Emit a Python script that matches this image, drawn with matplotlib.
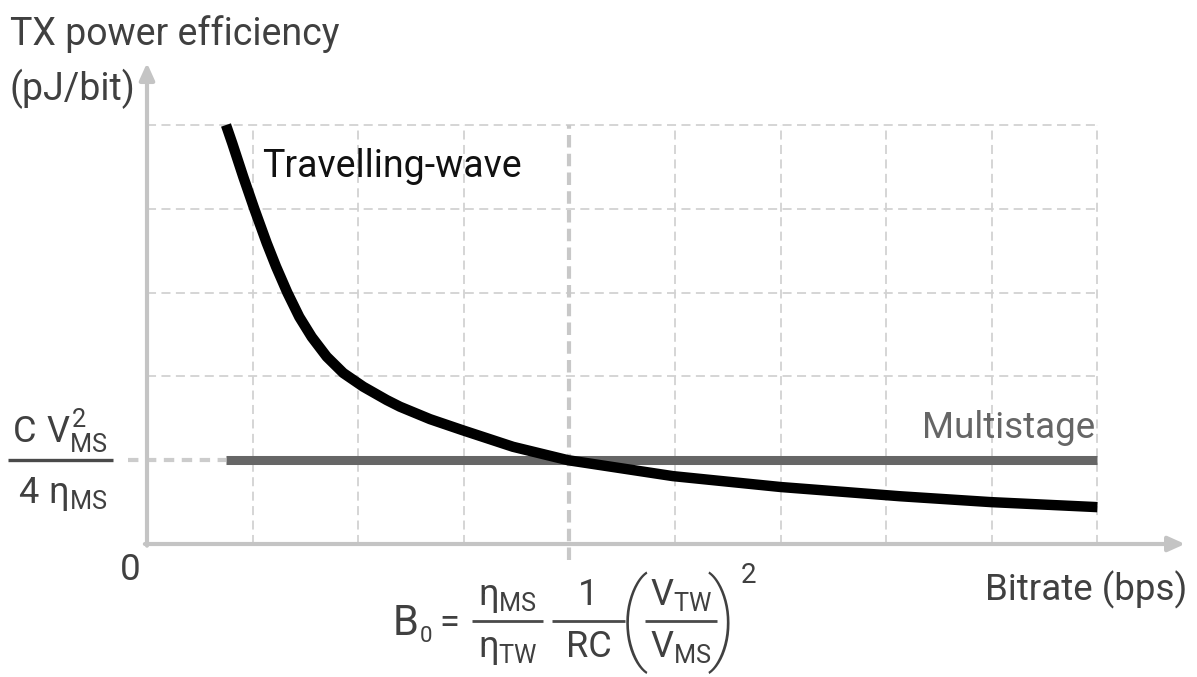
import matplotlib
matplotlib.use("Agg")
import matplotlib.pyplot as plt

plt.rcParams['font.family'] = ['Roboto', 'DejaVu Sans']
plt.rcParams['mathtext.fontset'] = 'custom'
plt.rcParams['mathtext.rm'] = 'Roboto'
plt.rcParams['mathtext.it'] = 'Roboto'
plt.rcParams['mathtext.bf'] = 'Roboto:bold'

# bitrate in grid cells (B0 sits at 4), efficiency in grid cells (multistage level at 1)
tw_bitrate = [0.748, 0.808, 0.912, 1.016, 1.134, 1.222, 1.329, 1.442, 1.560, 1.702,
              1.859, 2.048, 2.270, 2.396, 2.68, 2.983, 3.466, 3.987, 4.98, 6.0,
              7.13, 7.99, 9.0]
tw_energy = [5.0, 4.78, 4.38, 4.0, 3.59, 3.31, 3.0, 2.71, 2.47, 2.235,
             2.04, 1.877, 1.718, 1.638, 1.49, 1.36, 1.16, 1.0, 0.81, 0.68,
             0.57, 0.50, 0.44]
ms_bitrate = [0.75, 9.0]
ms_energy = [1.0, 1.0]
grid_x = [1, 2, 3, 5, 6, 7, 8, 9]
grid_y = [2, 3, 4, 5]
b0 = 4.0
level = 1.0

# pixel layout of the reference: origin at (147, 544), cells 105.6 x 83.8 px
X0, Y0, DX, DY = 147, 544, 105.6, 83.8


def px(x, y):
    return (x - X0) / DX, (Y0 - y) / DY


fig = plt.figure(figsize=(11.97, 6.77), dpi=100)
ax = fig.add_axes([0, 0, 1, 1])
ax.set_xlim(-X0 / DX, (1197 - X0) / DX)
ax.set_ylim(-(677 - Y0) / DY, Y0 / DY)
ax.axis('off')

grid_kw = dict(color='#d2d2d2', lw=1.3, ls=(0, (5, 3)), zorder=1)
for gx in grid_x:
    ax.plot([gx, gx], [0, 5], **grid_kw)
for gy in grid_y:
    ax.plot([0, 9], [gy, gy], **grid_kw)
ax.plot([-0.18, ms_bitrate[0]], [level, level], color='#cccccc', lw=3, ls=(0, (2.5, 1.8)), zorder=1)
ax.plot([b0, b0], [-0.19, 5], color='#c8c8c8', lw=3, ls=(0, (3, 1.5)), zorder=1)

axis_col = '#c4c4c4'
arrow = dict(arrowstyle='-|>,head_length=1.0,head_width=0.45', color=axis_col, lw=3, shrinkA=0, shrinkB=0)
ax.annotate('', xy=(0, 5.74), xytext=(0, -0.02), arrowprops=arrow, zorder=2)
ax.annotate('', xy=(9.83, 0), xytext=(-0.02, 0), arrowprops=arrow, zorder=2)

ax.plot(ms_bitrate, ms_energy, color='#666666', lw=6.5, solid_capstyle='butt', zorder=3)
ax.plot(tw_bitrate, tw_energy, color='black', lw=7.5, solid_capstyle='butt',
        solid_joinstyle='round', zorder=4)

txt = '#404040'
big = 26.5
ax.text(*px(10, 45), 'TX power efficiency', fontsize=27, color=txt, va='baseline', ha='left')
ax.text(*px(9, 100), '(pJ/bit)', fontsize=27, color=txt, va='baseline', ha='left')
ax.text(*px(262, 177), 'Travelling-wave', fontsize=27, color='#111111', va='baseline', ha='left')
ax.text(*px(1095, 438), 'Multistage', fontsize=big, color='#666666', va='baseline', ha='right')
ax.text(*px(1187, 600), 'Bitrate (bps)', fontsize=big, color=txt, va='baseline', ha='right')
ax.text(*px(130, 580), '0', fontsize=big, color=txt, va='baseline', ha='center')

# y tick label: C V_MS^2 / (4 eta_MS)
fs = 26
ax.text(*px(12, 442), r'$C\ V_{MS}^{2}$', fontsize=fs, color=txt, va='baseline', ha='left')
ax.plot([px(8, 0)[0], px(113, 0)[0]], [level, level], color='#4a4a4a', lw=2.4, solid_capstyle='butt')
ax.text(*px(18, 503), r'$4\ \eta_{MS}$', fontsize=fs, color=txt, va='baseline', ha='left')

# x tick label: B0 = eta_MS/eta_TW * 1/RC * (V_TW/V_MS)^2
bar_y = px(0, 621)[1]
ax.text(*px(393, 635), 'B', fontsize=30, color=txt, va='baseline', ha='left')
ax.text(*px(420, 642), '0', fontsize=16, color=txt, va='baseline', ha='left')
ax.text(*px(449, 633), '=', fontsize=fs, color=txt, va='baseline', ha='center')
fracs = [(472, 543, r'$\eta_{MS}$', r'$\eta_{TW}$'),
         (552, 625, '1', 'RC'),
         (645, 717, r'$V_{TW}$', r'$V_{MS}$')]
for x1, x2, num, den in fracs:
    xc = px((x1 + x2) / 2, 0)[0]
    ax.plot([px(x1, 0)[0], px(x2, 0)[0]], [bar_y, bar_y], color='#4a4a4a', lw=2.0, solid_capstyle='butt')
    ax.text(xc, px(0, 605)[1], num, fontsize=fs, color=txt, va='baseline', ha='center')
    ax.text(xc, px(0, 657)[1], den, fontsize=fs, color=txt, va='baseline', ha='center')
ax.text(*px(634, 623), '(', fontsize=72, color=txt, va='center', ha='center', fontweight='light')
ax.text(*px(722, 623), ')', fontsize=72, color=txt, va='center', ha='center', fontweight='light')
ax.text(*px(741, 583), '2', fontsize=20, color=txt, va='baseline', ha='left')

fig.savefig('out.png', dpi=100, facecolor='white')
